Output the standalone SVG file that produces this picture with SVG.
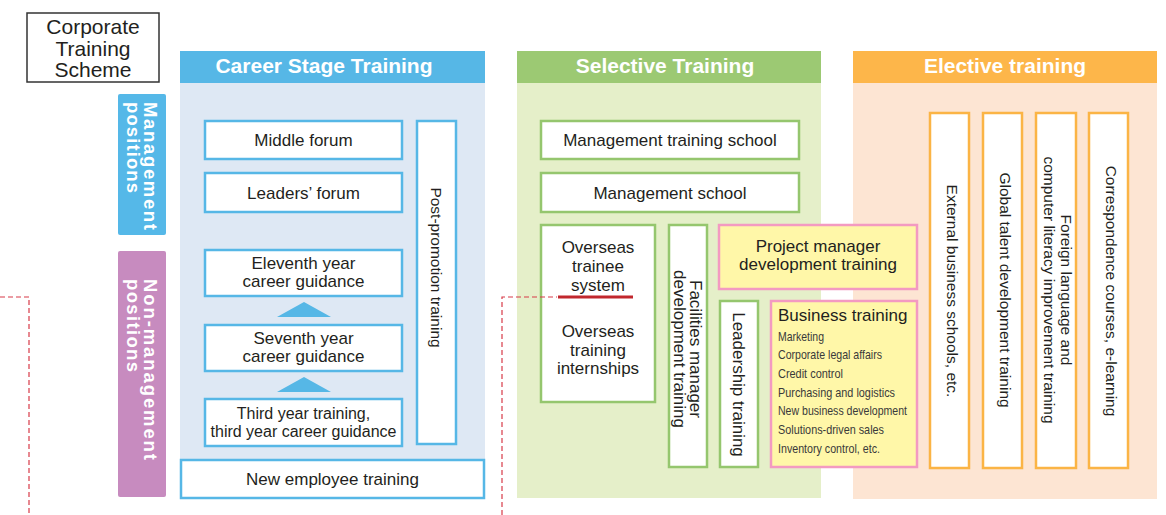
<svg xmlns="http://www.w3.org/2000/svg" width="1166" height="515" viewBox="0 0 1166 515">
<style>
text{font-family:"Liberation Sans",Arial,sans-serif;fill:#231f20}
.t17{font-size:17px}
.t16{font-size:16px}
.t155{font-size:15.5px}
.hd{font-size:21px;font-weight:bold;fill:#fff}
.side{font-size:18.5px;font-weight:bold;fill:#fff}
.bl{fill:#fff;stroke:#56b7e6;stroke-width:2.5}
.gr{fill:#fff;stroke:#95c66e;stroke-width:2.5}
.or{fill:#fff;stroke:#fbb445;stroke-width:2.5}
.pk{fill:#fff7a8;stroke:#f39ac1;stroke-width:2.5}
.it{font-family:"Liberation Sans Narrow","Liberation Sans",Arial,sans-serif;font-size:13px;fill:#3a3a3a}
.dash{fill:none;stroke:#d83a48;stroke-width:1.2;stroke-dasharray:5 3}
</style>

<!-- panel backgrounds -->
<g id="panel-career">
<rect x="180" y="83" width="305" height="377" fill="#dee8f4"/>
<rect x="180" y="51" width="305" height="32" fill="#56b7e6"/>
<text class="hd" x="324" y="73" text-anchor="middle">Career Stage Training</text>
</g>
<g id="panel-selective">
<rect x="517" y="83" width="304" height="415" fill="#e5efc9"/>
<rect x="517" y="51" width="304" height="32" fill="#9cc973"/>
<text class="hd" x="665" y="73" text-anchor="middle">Selective Training</text>
</g>
<g id="panel-elective">
<rect x="853" y="83" width="304" height="416" fill="#fde5d3"/>
<rect x="853" y="51" width="304" height="32" fill="#fdb64a"/>
<text class="hd" x="1005" y="73" text-anchor="middle">Elective training</text>
</g>

<g id="title">
<rect x="27" y="13" width="132" height="69" fill="#fff" stroke="#333" stroke-width="1.5"/>
<text x="93" y="34" font-size="21" text-anchor="middle">Corporate</text>
<text x="93" y="56" font-size="21" text-anchor="middle">Training</text>
<text x="93" y="77" font-size="21" text-anchor="middle">Scheme</text>
</g>

<g id="label-management">
<rect x="118" y="94" width="48" height="141" rx="2" fill="#55b8e8"/>
<g transform="translate(144,102) rotate(90)">
<text class="side" x="0" y="0" textLength="128" lengthAdjust="spacing">Management</text>
<text class="side" x="0" y="17" textLength="91" lengthAdjust="spacing">positions</text>
</g>
</g>
<g id="label-nonmanagement">
<rect x="118" y="251" width="48" height="246" rx="2" fill="#c78bbf"/>
<g transform="translate(144,279) rotate(90)">
<text class="side" x="0" y="0" textLength="181" lengthAdjust="spacing">Non-management</text>
<text class="side" x="0" y="17" textLength="93" lengthAdjust="spacing">positions</text>
</g>
</g>

<!-- Career stage nodes -->
<g id="middle-forum">
<rect class="bl" x="205" y="121" width="197" height="38"/>
<text class="t17" x="303.5" y="146" text-anchor="middle">Middle forum</text>
</g>
<g id="leaders-forum">
<rect class="bl" x="205" y="173" width="197" height="39"/>
<text class="t17" x="303.5" y="199" text-anchor="middle">Leaders’ forum</text>
</g>
<g id="eleventh-year">
<rect class="bl" x="205" y="250" width="197" height="46"/>
<text class="t17" x="303.5" y="269" text-anchor="middle">Eleventh year</text>
<text class="t17" x="303.5" y="287" text-anchor="middle">career guidance</text>
</g>
<g id="seventh-year">
<rect class="bl" x="205" y="325" width="197" height="46"/>
<text class="t17" x="303.5" y="344" text-anchor="middle">Seventh year</text>
<text class="t17" x="303.5" y="362" text-anchor="middle">career guidance</text>
</g>
<g id="third-year">
<rect class="bl" x="205" y="399" width="197" height="47"/>
<text class="t16" x="303.5" y="419" text-anchor="middle">Third year training,</text>
<text class="t16" x="303.5" y="436.5" text-anchor="middle">third year career guidance</text>
</g>
<g id="post-promotion">
<rect class="bl" x="417" y="121" width="39" height="323"/>
<text class="t155" transform="translate(431,267.5) rotate(90)" text-anchor="middle">Post-promotion training</text>
</g>
<g id="new-employee">
<rect class="bl" x="181" y="460" width="303" height="38"/>
<text class="t17" x="332.5" y="485" text-anchor="middle">New employee training</text>
</g>

<!-- Selective nodes -->
<g id="management-training-school">
<rect class="gr" x="541" y="121" width="258" height="38"/>
<text class="t17" x="670" y="146" text-anchor="middle">Management training school</text>
</g>
<g id="management-school">
<rect class="gr" x="541" y="173" width="258" height="39"/>
<text class="t17" x="670" y="199" text-anchor="middle">Management school</text>
</g>
<g id="overseas">
<rect class="gr" x="541" y="225" width="114" height="177"/>
<text class="t17" x="598" y="253" text-anchor="middle">Overseas</text>
<text class="t17" x="598" y="272" text-anchor="middle">trainee</text>
<text class="t17" x="598" y="291" text-anchor="middle">system</text>
<text class="t17" x="598" y="337" text-anchor="middle">Overseas</text>
<text class="t17" x="598" y="356" text-anchor="middle">training</text>
<text class="t17" x="598" y="374" text-anchor="middle">internships</text>
</g>
<g id="facilities-manager">
<rect class="gr" x="669" y="225" width="38" height="242"/>
<g transform="translate(690,349) rotate(90)">
<text class="t17" x="0" y="0" text-anchor="middle">Facilities manager</text>
<text class="t17" x="0" y="16" text-anchor="middle">development training</text>
</g>
</g>
<g id="leadership-training">
<rect class="gr" x="720" y="301" width="38" height="166"/>
<text class="t17" transform="translate(733,384.5) rotate(90)" text-anchor="middle">Leadership training</text>
</g>
<g id="project-manager">
<rect class="pk" x="719" y="225" width="198" height="64"/>
<text class="t17" x="818" y="252" text-anchor="middle">Project manager</text>
<text class="t17" x="818" y="270" text-anchor="middle">development training</text>
</g>
<g id="business-training">
<rect class="pk" x="771" y="301" width="146" height="166"/>
<text class="t17" x="778" y="321">Business training</text>
<text class="it" x="778" y="340.7" textLength="46" lengthAdjust="spacingAndGlyphs">Marketing</text>
<text class="it" x="778" y="359.4" textLength="104" lengthAdjust="spacingAndGlyphs">Corporate legal affairs</text>
<text class="it" x="778" y="378" textLength="65" lengthAdjust="spacingAndGlyphs">Credit control</text>
<text class="it" x="778" y="396.7" textLength="117" lengthAdjust="spacingAndGlyphs">Purchasing and logistics</text>
<text class="it" x="778" y="415.4" textLength="129" lengthAdjust="spacingAndGlyphs">New business development</text>
<text class="it" x="778" y="434" textLength="106" lengthAdjust="spacingAndGlyphs">Solutions-driven sales</text>
<text class="it" x="778" y="452.7" textLength="102" lengthAdjust="spacingAndGlyphs">Inventory control, etc.</text>
</g>

<!-- Elective nodes -->
<g id="external-business-schools">
<rect class="or" x="930" y="113" width="39" height="355"/>
<text class="t155" transform="translate(947,291) rotate(90)" text-anchor="middle">External business schools, etc.</text>
</g>
<g id="global-talent">
<rect class="or" x="983" y="113" width="39" height="355"/>
<text class="t155" transform="translate(1000,290) rotate(90)" text-anchor="middle">Global talent development training</text>
</g>
<g id="foreign-language">
<rect class="or" x="1036" y="113" width="40" height="355"/>
<g transform="translate(1061,290) rotate(90)">
<text class="t155" x="0" y="0" text-anchor="middle">Foreign language and</text>
<text class="t155" x="0" y="17" text-anchor="middle">computer literacy improvement training</text>
</g>
</g>
<g id="correspondence">
<rect class="or" x="1089" y="113" width="39" height="355"/>
<text class="t155" transform="translate(1106,291) rotate(90)" text-anchor="middle">Correspondence courses, e-learning</text>
</g>

<g id="connectors">
<polygon points="277,317 304,302 331,317" fill="#56b7e6"/>
<polygon points="277,392 304,377 331,392" fill="#56b7e6"/>
<path class="dash" d="M0,297 H29 V515"/>
<path class="dash" d="M502,515 V297 H557"/>
<line x1="558" y1="297" x2="633" y2="297" stroke="#c1272d" stroke-width="3"/>
</g>
</svg>
